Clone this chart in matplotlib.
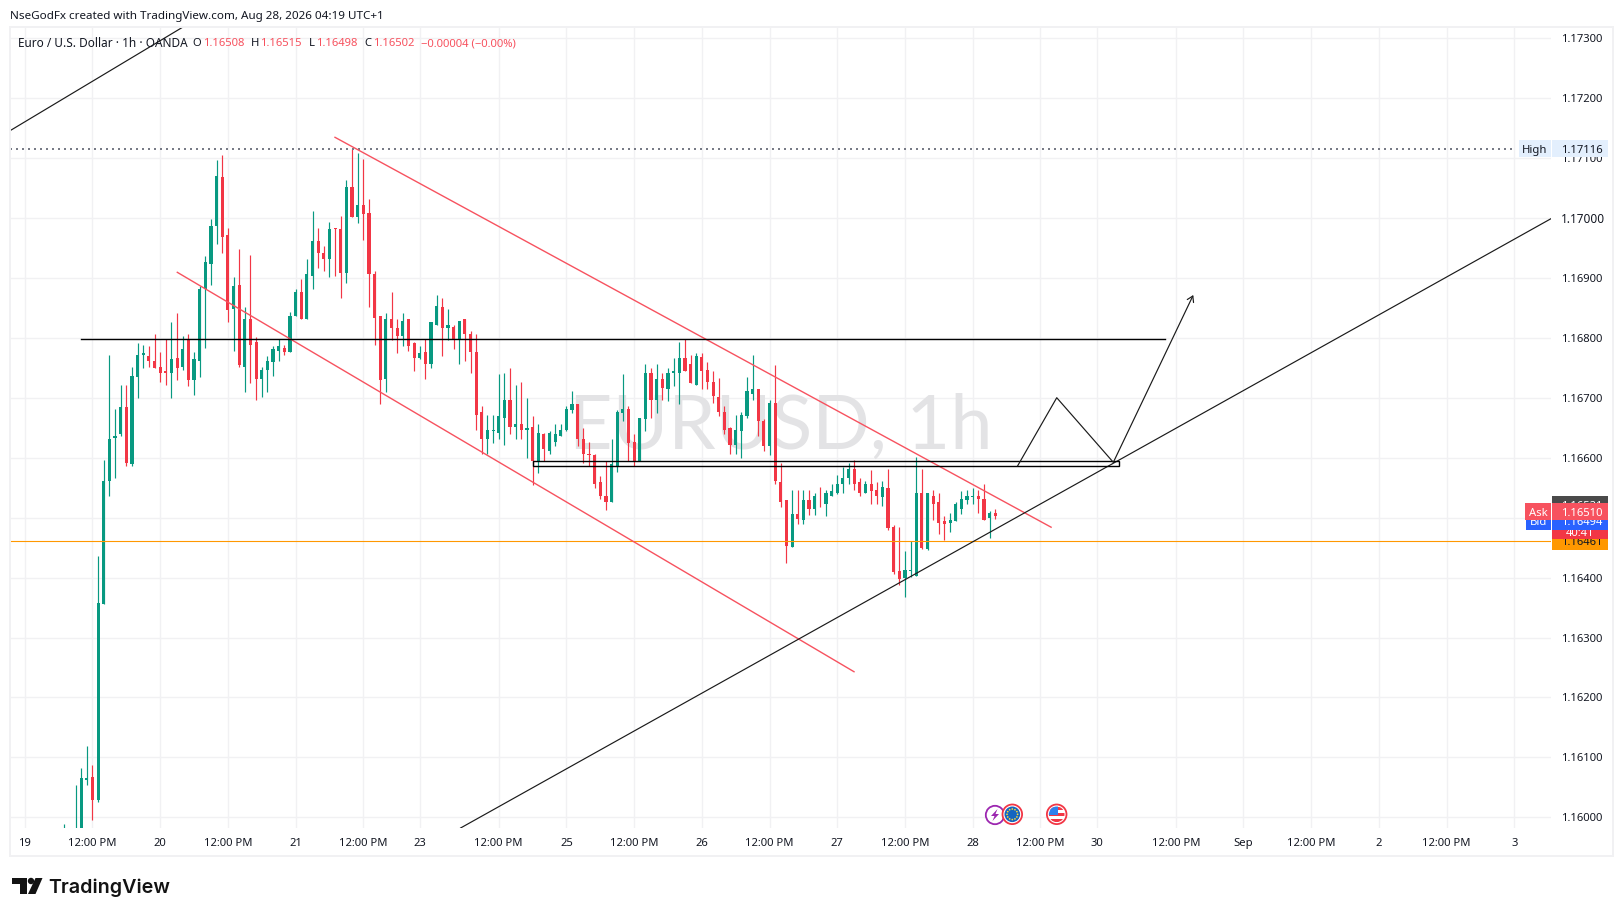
import numpy as np
import matplotlib
matplotlib.use("Agg")
import matplotlib.pyplot as plt
from matplotlib.patches import Rectangle, Circle, Polygon

# ---------- data (prices in 1e-5 units, one entry per hourly bar) ----------
opens = [115940,115950,115940,115975,116063,116067,116029,116356,116561,116633,
116639,116684,116589,116734,116772,116769,116762,116752,116744,116742,
116767,116751,116796,116729,116762,116881,116924,116987,117069,116971,
116849,116889,116752,116831,116794,116732,116746,116759,116779,116784,
116777,116836,116877,116831,116904,116961,116942,116931,116983,116981,
116909,117052,117002,117022,117009,116907,116836,116732,116832,116817,
116804,116831,116791,116766,116776,116757,116821,116852,116817,116819,
116797,116831,116806,116777,116676,116632,116644,116642,116667,116696,
116652,116657,116647,116651,116594,116639,116612,116626,116637,116646,
116679,116689,116632,116607,116604,116559,116537,116527,116587,116674,
116681,116626,116594,116664,116741,116696,116731,116714,116742,116742,
116766,116756,116722,116768,116746,116726,116702,116677,116649,116621,
116644,116669,116707,116714,116661,116619,116692,116559,116529,116451,
116506,116496,116529,116514,116537,116522,116537,116541,116557,116566,
116582,116559,116542,116557,116546,116534,116549,116484,116411,116399,
116411,116402,116542,116447,116536,116526,116494,116491,116494,116514,
116529,116534,116537,116532,116499,116508]
highs = [115989,115975,116054,116082,116119,116087,116436,116597,116772,116682,
116721,116722,116752,116792,116789,116786,116807,116776,116799,116827,
116841,116804,116806,116776,116886,116937,116999,117097,117106,116984,
116902,116949,116852,116939,116801,116751,116770,116786,116799,116789,
116844,116881,116899,116931,117011,116984,116954,116994,116984,117004,
117064,117116,117109,117099,117032,116912,116836,116841,116877,116831,
116842,116832,116794,116786,116799,116827,116872,116866,116849,116822,
116829,116832,116811,116807,116686,116671,116671,116739,116741,116749,
116722,116726,116699,116669,116656,116642,116644,116656,116656,116687,
116711,116689,116649,116626,116607,116569,116594,116632,116679,116739,
116686,116639,116666,116757,116749,116756,116741,116749,116767,116794,
116799,116772,116774,116774,116759,116744,116733,116686,116652,116671,
116677,116734,116771,116714,116664,116696,116754,116592,116529,116546,
116546,116547,116547,116541,116552,116546,116557,116572,116584,116592,
116597,116566,116562,116579,116559,116562,116582,116487,116484,116444,
116461,116602,116582,116542,116547,116542,116502,116507,116527,116544,
116547,116549,116546,116556,116511,116515]
lows = [115930,115930,115930,115960,116054,115996,116026,116356,116537,116566,
116636,116586,116586,116699,116749,116752,116750,116727,116722,116699,
116729,116746,116719,116704,116734,116784,116889,116957,116942,116827,
116779,116751,116709,116724,116696,116701,116709,116736,116761,116772,
116777,116836,116831,116831,116882,116917,116911,116902,116904,116867,
116892,117001,116992,116964,116852,116789,116689,116709,116797,116774,
116787,116779,116744,116764,116731,116749,116821,116769,116796,116781,
116756,116762,116741,116647,116607,116606,116624,116632,116622,116639,
116632,116631,116600,116554,116575,116595,116606,116619,116637,116644,
116674,116619,116591,116587,116549,116532,116512,116527,116577,116662,
116594,116586,116594,116644,116666,116674,116696,116694,116719,116689,
116744,116724,116722,116714,116714,116691,116669,116639,116607,116607,
116599,116667,116697,116637,116612,116604,116557,116517,116424,116451,
116489,116489,116504,116504,116517,116502,116537,116539,116542,116556,
116546,116536,116542,116522,116522,116519,116479,116406,116387,116367,
116401,116402,116447,116446,116496,116472,116462,116476,116494,116506,
116522,116522,116507,116496,116466,116498]
closes = [115960,115965,115975,116066,116066,116029,116358,116562,116632,116637,
116684,116591,116736,116772,116774,116762,116750,116741,116742,116764,
116749,116782,116729,116764,116881,116927,116987,117071,116969,116846,
116887,116754,116831,116789,116732,116746,116761,116781,116786,116776,
116836,116877,116832,116906,116961,116941,116931,116981,116981,116909,
117052,117001,117021,117006,116906,116834,116729,116832,116817,116804,
116829,116787,116766,116774,116757,116826,116854,116817,116821,116799,
116829,116806,116776,116672,116632,116646,116646,116669,116696,116652,
116657,116646,116649,116594,116641,116614,116642,116639,116647,116681,
116689,116631,116606,116604,116557,116536,116527,116589,116677,116682,
116624,116594,116666,116741,116696,116731,116716,116742,116744,116766,
116744,116724,116769,116744,116727,116703,116676,116647,116621,116646,
116671,116711,116714,116661,116619,116691,116561,116527,116452,116506,
116497,116529,116514,116536,116536,116542,116544,116557,116567,116582,
116557,116542,116557,116544,116536,116551,116482,116409,116397,116412,
116412,116542,116449,116542,116522,116491,116489,116496,116522,116532,
116536,116537,116532,116496,116507,116502]

price_ticks = [1.173,1.172,1.171,1.170,1.169,1.168,1.167,1.166,1.165,1.164,1.163,1.162,1.161,1.160]
time_ticks = [-7,5,17,29,41,53,63,77,89,101,113,125,137,149,161,173,183,197,209,221,233,245,257]
time_labels = ["19","12:00 PM","20","12:00 PM","21","12:00 PM","23","12:00 PM","25","12:00 PM",
               "26","12:00 PM","27","12:00 PM","28","12:00 PM","30","12:00 PM","Sep","12:00 PM",
               "2","12:00 PM","3"]

high_price = 1.17116
line_price = 1.16461
ask_price, bid_price, last_price, session_price = 1.16510, 1.16494, 1.16502, 1.16521

# drawings: (bar index, price) pairs
trend_top_x, trend_top_y = [-9.62, 21.04], [1.171458, 1.173189]
trend_low_x, trend_low_y = [70.24, 263.5], [1.159821, 1.16999]
chan_up_x, chan_up_y = [47.98, 174.9], [1.171348, 1.164841]
chan_dn_x, chan_dn_y = [20.03, 139.97], [1.169095, 1.162429]
res_x, res_y = [2.96, 195.09], [1.167977, 1.167977]
zone_x, zone_y = [83.13, 186.99], [1.165857, 1.165941]
path_x, path_y = [168.98, 175.9, 185.93], [1.165867, 1.167002, 1.165924]
arrow_end_x, arrow_end_y = 200.1, 1.168716

# ---------- style ----------
FONT = "Noto Sans"
plt.rcParams["font.family"] = [FONT, "DejaVu Sans"]
GREEN, RED, ALERT = "#089981", "#f23645", "#f7525f"
GRID, INK = "#f1f1f3", "#131722"
W, H = 1623, 916
L_, R_, T_, B_ = 10, 1551, 27, 828

fig = plt.figure(figsize=(W/100, H/100), dpi=100, facecolor="white")
ax = fig.add_axes([L_/W, 1-B_/H, (R_-L_)/W, (B_-T_)/H])
ax.set_xlim(-9.62, 263.5)
ax.set_ylim(1.159821, 1.173189)
ax.axis("off")

# grid
for p in price_ticks:
    ax.axhline(p, color=GRID, lw=1.0, zorder=1)
for t in time_ticks:
    ax.axvline(t, color=GRID, lw=1.0, zorder=1)

# watermark
ax.text(0.5, 0.5, "EURUSD, 1h", transform=ax.transAxes, ha="center", va="center",
        fontsize=54.5, family="Lato", color="#e3e3e5", zorder=2)

# candles
o, h, l, c = [np.array(v)/1e5 for v in (opens, highs, lows, closes)]
idx = np.arange(len(o))
colors = [GREEN if a >= b else RED for a, b in zip(c, o)]
ax.vlines(idx, l, h, colors=colors, lw=0.85, zorder=3)
ax.bar(idx, np.abs(c-o), bottom=np.minimum(o, c), width=0.56, color=colors, lw=0, zorder=4)

# horizontal lines
ax.plot([-9.62, 257.3], [high_price]*2, color="#787b86", lw=1.44, ls=(0, (1, 2)), zorder=5)
ax.axhline(line_price, color="#ff9800", lw=0.8, zorder=5)

# drawings
ax.plot(chan_up_x, chan_up_y, color=ALERT, lw=1.0, zorder=6)
ax.plot(chan_dn_x, chan_dn_y, color=ALERT, lw=1.0, zorder=6)
ax.plot(trend_top_x, trend_top_y, color="#1a1a1a", lw=0.85, zorder=6)
ax.plot(trend_low_x, trend_low_y, color="#1a1a1a", lw=0.85, zorder=6)
ax.plot(res_x, res_y, color="black", lw=1.0, zorder=6)
ax.add_patch(Rectangle((zone_x[0], zone_y[0]), zone_x[1]-zone_x[0], zone_y[1]-zone_y[0],
                       fill=False, ec="black", lw=1.0, zorder=6))
ax.plot(path_x, path_y, color="#1a1a1a", lw=0.85, zorder=6)
ax.annotate("", xy=(arrow_end_x, arrow_end_y), xytext=(path_x[-1], path_y[-1]),
            arrowprops=dict(arrowstyle="->,head_length=0.4,head_width=0.25", color="#1a1a1a",
                            lw=0.85, shrinkA=0, shrinkB=0), zorder=6)

# ---------- overlay in figure pixels ----------
ov = fig.add_axes([0, 0, 1, 1], facecolor="none")
ov.set_xlim(0, W)
ov.set_ylim(H, 0)
ov.axis("off")

def yp(price):
    return H - ax.transData.transform((0, price))[1]

def xp(i):
    return ax.transData.transform((i, 0))[0]

ov.add_patch(Rectangle((9.5, 26.5), 1603, 829, fill=False, ec="#f1f1f3", lw=1.4, zorder=1))

TS = 8.1
for p in price_ticks:
    bold = abs(p-1.170) < 1e-9
    ov.text(1561, yp(p), f"{p:.5f}", ha="left", va="center_baseline", fontsize=TS+0.4 if bold else TS,
            color=INK, fontweight="medium" if bold else "normal", zorder=2)
for t, s in zip(time_ticks, time_labels):
    ov.text(xp(t), 842, s, ha="center", va="center_baseline", fontsize=TS, color=INK, zorder=2)

def price_box(price, text, bg, fg, z, tag=None, tag_x=1526, hi=8.7, extra=None, bottom=None):
    y = yp(price)
    y1 = y - hi
    y2 = bottom if bottom else y + hi
    ov.add_patch(Rectangle((1552, y1), 56, y2-y1, fc=bg, ec="none", zorder=z))
    ov.text(1561, y, text, ha="left", va="center_baseline", fontsize=TS, color=fg, zorder=z+0.1)
    if extra:
        ov.text(1580, y+15.5, extra, ha="center", va="center_baseline", fontsize=TS, color=fg, zorder=z+0.1)
    if tag:
        ov.add_patch(Rectangle((tag_x, y1), 1551-tag_x, y2-y1, fc=bg, ec="none", zorder=z))
        ov.text((tag_x+1551)/2, y, tag, ha="center", va="center_baseline", fontsize=TS, color=fg, zorder=z+0.1)

price_box(high_price, "1.17116", "#e3effd", INK, 3, tag="High", tag_x=1519)
price_box(session_price, "1.16521", "#4a4a4a", "white", 4)
price_box(line_price, "1.16461", "#ff9800", INK, 5)
price_box(last_price, "1.16502", RED, "white", 6, extra="40:41", bottom=539)
price_box(bid_price, "1.16494", "#2962ff", "white", 7, tag="Bid")
price_box(ask_price, "1.16510", ALERT, "white", 8, tag="Ask", tag_x=1525)

# header texts
ov.text(10.3, 15, "NseGodFx created with TradingView.com, Aug 28, 2026 04:19 UTC+1",
        fontsize=8.4, color=INK, va="center_baseline", zorder=9)
HS = 8.1
ov.text(18, 42, "Euro / U.S. Dollar · 1h · OANDA", fontsize=8.5, color=INK, va="center_baseline", zorder=9)
for lab, lx, val, vx in [("O", 192.5, f"{opens[-1]/1e5:.5f}", 203), ("H", 250.5, f"{highs[-1]/1e5:.5f}", 260),
                         ("L", 308.5, f"{lows[-1]/1e5:.5f}", 315.8), ("C", 364, f"{closes[-1]/1e5:.5f}", 372.6)]:
    ov.text(lx, 42, lab, fontsize=HS, color=INK, va="center_baseline", zorder=9)
    ov.text(vx, 42, val, fontsize=HS, color=ALERT, va="center_baseline", zorder=9)
ov.text(420.8, 42, "−0.00004 (−0.00%)", fontsize=HS, color=ALERT, va="center_baseline", zorder=9)

# TradingView logo
LOGO = "#131313"
ov.add_patch(Polygon([(12, 878), (27, 878), (27, 894), (19.5, 894), (19.5, 884), (12, 884)], fc=LOGO, ec="none"))
ov.add_patch(Circle((31, 881), 3.2, fc=LOGO, ec="none"))
ov.add_patch(Polygon([(35.5, 878), (42.5, 878), (35.5, 894), (28, 894)], fc=LOGO, ec="none"))
ov.text(48.5, 893, "TradingView", fontsize=14.2, fontweight="semibold", family="Inter", color=LOGO, va="baseline")

# event icons
ov.add_patch(Circle((995, 815), 9.2, fc="white", ec="#9c27b0", lw=1.3, zorder=3))
ov.add_patch(Polygon([(997.5, 809), (991, 816), (994.5, 816), (992.5, 821), (999, 814), (995.5, 814)],
                     fc="#9c27b0", ec="none", zorder=3))
ov.add_patch(Circle((1012.3, 814.3), 9.8, fc="white", ec=RED, lw=1.3, zorder=4))
ov.add_patch(Circle((1012.3, 814.3), 7.8, fc="#1565c0", ec="none", zorder=4))
for a in np.arange(0, 360, 30):
    ov.add_patch(Circle((1012.3+5.3*np.cos(np.radians(a)), 814.3+5.3*np.sin(np.radians(a))), 0.85,
                        fc="#fdd835", ec="none", zorder=5))
ov.add_patch(Circle((1056.7, 814.3), 9.8, fc="white", ec=RED, lw=1.3, zorder=4))
clip = Circle((1056.7, 814.3), 7.8, transform=ov.transData)
for k, col in enumerate([RED, "white", RED, "white", RED]):
    s = Rectangle((1048, 807+k*3), 18, 3, fc=col, ec="none", zorder=5)
    ov.add_patch(s)
    s.set_clip_path(clip)
b = Rectangle((1048, 806), 9.5, 9, fc="#2f80ed", ec="none", zorder=6)
ov.add_patch(b)
b.set_clip_path(clip)

fig.savefig("out.png", dpi=100, facecolor="white")
